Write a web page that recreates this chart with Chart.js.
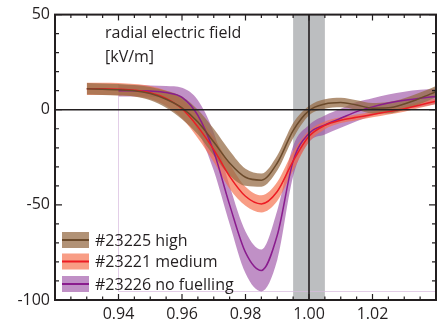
<!DOCTYPE html>
<html>
<head>
<meta charset="utf-8">
<script src="https://cdn.jsdelivr.net/npm/chart.js@4.4.1/dist/chart.umd.min.js"></script>
<style>
  html, body { margin: 0; padding: 0; background: #fff; }
  #wrap { width: 441px; height: 327px; }
</style>
</head>
<body>
<div id="wrap"><canvas id="efield"></canvas></div>
<script>
// normalised radius (x) and Er profiles in kV/m
const rho = [0.930, 0.935, 0.940, 0.945, 0.950, 0.955, 0.960, 0.965, 0.970, 0.975, 0.980, 0.985,
             0.990, 0.995, 1.000, 1.005, 1.010, 1.015, 1.020, 1.025, 1.030, 1.035, 1.040];

// #23225 high
const highMid = [11, 10.8, 10.5, 10, 8.5, 5.5, 1, -6.5, -17, -28, -35.5, -37,
                 -28, -11, -0.5, 3, 3.8, 2.5, 0.8, 1, 3, 6, 9.5];
const highLo  = [8, 7.8, 7.5, 7, 5, 1, -5, -13, -24, -34.5, -40, -40.5,
                 -32, -15, -3, 0.5, 1.3, 0, -2, -2, 0, 3, 6.5];
const highHi  = [14, 13.8, 13.5, 13, 12, 10, 7, 0, -10, -21.5, -31, -33.5,
                 -24, -7, 2, 5.5, 6.3, 5, 3.5, 4, 6, 9, 12.5];

// #23221 medium
const medMid = [11, 11, 10.8, 10.3, 9, 6, 0.5, -9, -21, -35, -45.5, -49.5,
                -43, -27, -14, -8.2, -5.5, -4, -2.5, -1, 0.5, 2.5, 4.5];
const medLo  = [7.8, 7.8, 7.6, 7.1, 5.5, 2, -4.5, -15, -27.5, -41.5, -50.5, -54,
                -48, -32, -17, -10.2, -7, -5.5, -4, -2.5, -1, 1, 3];
const medHi  = [14.2, 14.2, 14, 13.5, 12.5, 10, 5.5, -3, -14.5, -28.5, -40.5, -45,
                -38, -22, -11, -6.2, -4, -2.5, -1, 0.5, 2, 4, 6];

// #23226 no fuelling (starts at 0.94)
const noneMid = [null, null, 10, 10, 9.8, 9, 6.5, -3, -22, -50, -75, -84.5,
                 -66, -27, -12.5, -8, -4.5, -1, 1.5, 3.5, 5, 6, 7];
const noneLo  = [null, null, 7, 7, 6.8, 5.5, 1.5, -11, -32, -60, -86, -95.5,
                 -79, -35, -17, -13, -9.5, -6, -3, -1, 0.5, 1.5, 3];
const noneHi  = [null, null, 13, 13, 12.8, 12.5, 11.5, 5, -12, -40, -64, -73.5,
                 -53, -19, -8, -3, 0.5, 4, 6, 8, 9.5, 10.5, 11];

const seriesNames = ['#23225 high', '#23221 medium', '#23226 no fuelling'];
const lineColors = ['#6b4a2b', '#ed1c24', '#8a1c8e'];
const bandColors = ['rgba(150,108,70,0.74)', 'rgba(245,110,75,0.68)', 'rgba(150,70,160,0.6)'];

const sepBand = [0.995, 1.005];   // grey separatrix band
const xRange = [0.92, 1.04];
const yRange = [-100, 50];

const ink = '#231f20';
const font = '"Open Sans", sans-serif';

function pts(vals) {
    return rho.map((r, i) => ({ x: r, y: vals[i] })).filter(p => p.y !== null);
}

function lineSet(vals, k) {
    return { label: seriesNames[k], data: pts(vals), borderColor: lineColors[k], borderWidth: 1.5,
             pointRadius: 0, fill: false, cubicInterpolationMode: 'monotone' };
}
function bandSet(vals, k, fill) {
    return { label: seriesNames[k] + ' band', data: pts(vals), borderColor: 'transparent', borderWidth: 0,
             backgroundColor: bandColors[k], pointRadius: 0, fill: fill, cubicInterpolationMode: 'monotone' };
}

// index 0 is drawn last (on top)
const datasets = [
    lineSet(highMid, 0), lineSet(medMid, 1), lineSet(noneMid, 2),
    bandSet(highHi, 0, '+1'), bandSet(highLo, 0, false),
    bandSet(medHi, 1, '+1'), bandSet(medLo, 1, false),
    bandSet(noneHi, 2, '+1'), bandSet(noneLo, 2, false)
];

const decor = {
    id: 'decor',
    beforeDatasetsDraw(chart) {
        const { ctx, chartArea: a, scales: { x, y } } = chart;
        ctx.save();
        const x0 = x.getPixelForValue(sepBand[0]), x1 = x.getPixelForValue(sepBand[1]);
        ctx.fillStyle = '#bcbec0';
        ctx.fillRect(x0, a.top, x1 - x0, a.bottom - a.top);
        // faint box around the no-fuelling data
        ctx.strokeStyle = 'rgba(215,185,222,0.7)';
        ctx.lineWidth = 1;
        ctx.beginPath();
        const bx = Math.round(x.getPixelForValue(0.94)) + 0.5;
        const by = Math.round(y.getPixelForValue(-95.5)) + 0.5;
        ctx.moveTo(bx, y.getPixelForValue(13.5));
        ctx.lineTo(bx, by);
        ctx.lineTo(a.right, by);
        ctx.stroke();
        ctx.restore();
    },
    afterDatasetsDraw(chart) {
        const { ctx, chartArea: a, scales: { x, y } } = chart;
        ctx.save();
        ctx.strokeStyle = ink;
        // zero line and separatrix
        ctx.lineWidth = 1.6;
        ctx.beginPath();
        const y0 = y.getPixelForValue(0);
        ctx.moveTo(a.left, y0); ctx.lineTo(a.right, y0);
        const xs = x.getPixelForValue(1.0);
        ctx.moveTo(xs, a.top); ctx.lineTo(xs, a.bottom);
        ctx.stroke();

        // frame
        ctx.lineWidth = 2;
        ctx.strokeRect(a.left, a.top, a.right - a.left, a.bottom - a.top);

        // inward ticks on all four sides
        ctx.lineWidth = 1.2;
        ctx.beginPath();
        x.ticks.forEach(t => {
            const p = x.getPixelForValue(t.value);
            const len = Math.round(t.value * 1000) % 20 === 0 ? 6 : 3.5;
            ctx.moveTo(p, a.bottom); ctx.lineTo(p, a.bottom - len);
            ctx.moveTo(p, a.top); ctx.lineTo(p, a.top + len);
        });
        y.ticks.forEach(t => {
            const p = y.getPixelForValue(t.value);
            const len = Math.round(t.value) % 50 === 0 ? 7 : 4;
            ctx.moveTo(a.left, p); ctx.lineTo(a.left + len, p);
            ctx.moveTo(a.right, p); ctx.lineTo(a.right - len, p);
        });
        ctx.stroke();

        // quantity label
        ctx.fillStyle = ink;
        ctx.font = '16px ' + font;
        ctx.textAlign = 'left';
        ctx.textBaseline = 'alphabetic';
        ctx.fillText('radial electric field', a.left + 50, 38);
        ctx.fillText('[kV/m]', a.left + 50, 62);

        // legend
        const rows = [240, 261.5, 284];
        rows.forEach((cy, k) => {
            ctx.fillStyle = bandColors[k];
            ctx.fillRect(a.left + 7, cy - 8, 27, 16);
            ctx.strokeStyle = lineColors[k];
            ctx.lineWidth = 2;
            ctx.beginPath();
            ctx.moveTo(a.left + 7, cy); ctx.lineTo(a.left + 34, cy);
            ctx.stroke();
            ctx.fillStyle = ink;
            ctx.textBaseline = 'middle';
            ctx.fillText(seriesNames[k], a.left + 40, cy + 1);
        });
        ctx.restore();
    }
};

new Chart(document.getElementById('efield'), {
    type: 'line',
    data: { datasets: datasets },
    options: {
        responsive: true,
        maintainAspectRatio: false,
        animation: false,
        layout: { padding: { top: 14, right: 4, left: 0, bottom: 0 } },
        plugins: { legend: { display: false }, tooltip: { enabled: false } },
        scales: {
            x: {
                type: 'linear', min: xRange[0], max: xRange[1],
                grid: { display: false, drawTicks: false }, border: { display: false },
                afterFit: s => { s.height = 27; },
                ticks: {
                    stepSize: 0.005, autoSkip: false, maxRotation: 0, padding: 5,
                    color: ink, font: { family: font, size: 16 },
                    callback: v => {
                        const m = Math.round(v * 1000);
                        return (m % 20 === 0 && m > 920 && m < 1040) ? (m / 1000).toFixed(2) : '';
                    }
                }
            },
            y: {
                min: yRange[0], max: yRange[1],
                grid: { display: false, drawTicks: false }, border: { display: false },
                afterFit: s => { s.width = 55; },
                ticks: {
                    stepSize: 10, autoSkip: false, padding: 5,
                    color: ink, font: { family: font, size: 16 },
                    callback: v => (Math.round(v) % 50 === 0 ? String(Math.round(v)) : '')
                }
            }
        }
    },
    plugins: [decor]
});
</script>
</body>
</html>
